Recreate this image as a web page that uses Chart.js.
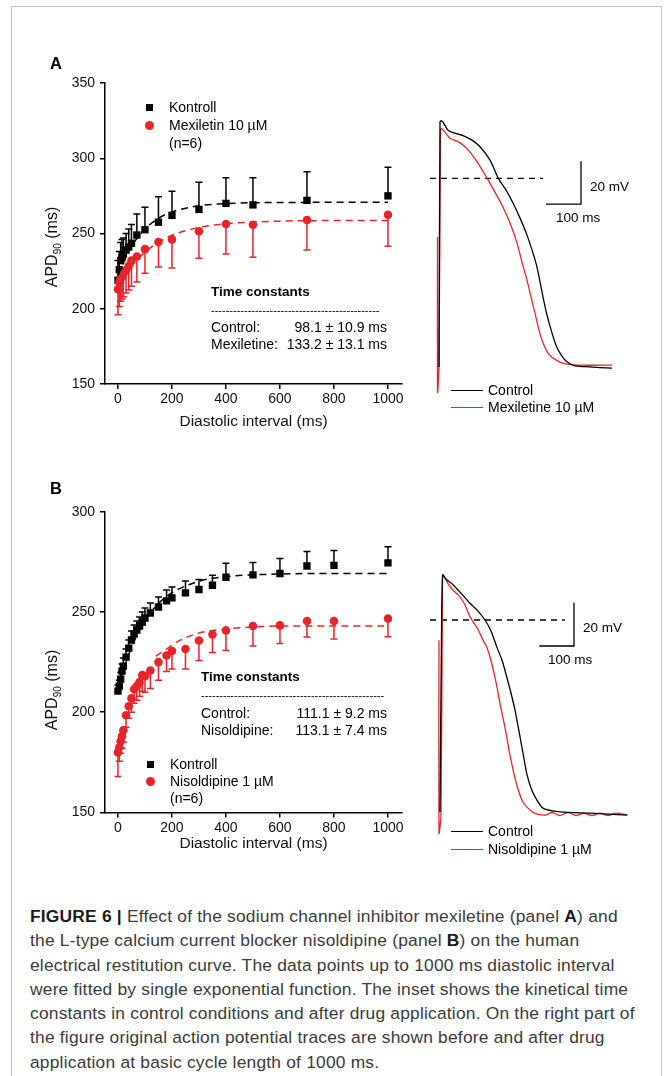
<!DOCTYPE html>
<html>
<head>
<meta charset="utf-8">
<script src="https://cdn.jsdelivr.net/npm/chart.js@4.4.1/dist/chart.umd.min.js"></script>
<style>
  html, body { margin: 0; padding: 0; background: #fff; }
  #page { position: relative; width: 665px; height: 1076px; overflow: hidden; font-family: "Liberation Sans", Arial, sans-serif; color: #000; }
  #frame { position: absolute; left: 11px; top: 6px; width: 651px; height: 1200px; border: 1px solid #c4c4c4; box-sizing: border-box; }
  canvas { position: absolute; }
  .t { position: absolute; white-space: nowrap; line-height: 1; transform: translateY(-50%); }
  .caption { position: absolute; left: 30px; top: 904px; width: 630px; font-size: 17.4px; letter-spacing: 0.2px; line-height: 24.3px; color: #3a3a3a; white-space: nowrap; }
  .caption b { color: #1a1a1a; }
</style>
</head>
<body>
<div id="page">
  <div id="frame"></div>
  <canvas id="cA" width="380" height="380" style="left:40px;top:60px;width:380px;height:380px"></canvas>
  <canvas id="tA" width="215" height="290" style="left:425px;top:110px;width:215px;height:290px"></canvas>
  <canvas id="cB" width="380" height="370" style="left:40px;top:490px;width:380px;height:370px"></canvas>
  <canvas id="tB" width="215" height="285" style="left:425px;top:560px;width:215px;height:285px"></canvas>
  <div class="caption"><b>FIGURE 6 |</b> Effect of the sodium channel inhibitor mexiletine (panel <b>A</b>) and<br>the L-type calcium current blocker nisoldipine (panel <b>B</b>) on the human<br>electrical restitution curve. The data points up to 1000 ms diastolic interval<br>were fitted by single exponential function. The inset shows the kinetical time<br>constants in control conditions and after drug application. On the right part of<br>the figure original action potential traces are shown before and after drug<br>application at basic cycle length of 1000 ms.</div>
</div>
<script>
// ---------------- Panel A: restitution data ----------------
const diA = [0, 5, 10, 15, 20, 30, 40, 50, 70, 100, 150, 200, 300, 400, 500, 700, 1000];
const kontrollA = [219, 226, 232, 234, 236, 239, 241, 243.5, 249, 252.5, 257.5, 262, 266, 270, 269, 272, 275];
const kontrollAErr = [13, 12, 12, 12, 11, 11, 12, 12.5, 14, 15, 17, 16, 18, 17, 18, 19, 19];
const mexA = [213, 217.5, 220, 221.5, 223, 225.5, 228.5, 232, 234.7, 239.6, 244.3, 246, 251.5, 256.3, 255.8, 259, 262.5];
const mexAErr = [17, 16, 15, 15, 15, 15, 16, 17, 17, 16, 16.5, 19, 18, 20, 21.5, 20, 21];
const fitXA = [0, 10, 25, 50, 75, 100, 150, 200, 300, 400, 600, 800, 1000];
const fitKontrollA = [222, 226.5, 232.7, 241.3, 247.9, 253.1, 260.1, 264.3, 268.4, 269.9, 270.6, 270.7, 270.7];
const fitMexA = [214, 217.2, 221.6, 228, 233.3, 237.6, 244.2, 248.8, 254, 256.5, 258.2, 258.6, 258.7];

// ---------------- Panel B: restitution data ----------------
const diB = [0, 5, 10, 15, 20, 30, 40, 50, 60, 70, 80, 90, 100, 120, 150, 180, 200, 250, 300, 350, 400, 500, 600, 700, 800, 1000];
const kontrollB = [210.5, 213, 216.5, 220.5, 223, 227.5, 232, 236, 239, 241, 243, 245, 247, 249.5, 252.5, 255.5, 257, 259.5, 261.2, 263.3, 267.3, 268.5, 269.2, 272.9, 273.2, 274.5];
const kontrollBErr = [3, 3, 3.5, 3.5, 4, 4, 4, 4.5, 4.5, 4.5, 4.5, 5, 5, 5, 5, 5.5, 5.5, 6, 5, 5, 7, 6.2, 7.5, 7.3, 7.5, 8];
const nisB = [180, 182.5, 185.5, 188, 191, 198.5, 203, 207, 211.5, 213, 215, 218.5, 218, 220.8, 225, 228.3, 230.5, 231.5, 235.8, 238.8, 240.8, 243, 243.3, 245.5, 245.5, 246.7];
const nisBErr = [12, 7, 6, 6, 6, 6, 6, 7, 7, 7, 7, 8, 8, 9, 9, 8, 9, 10, 10, 9, 10, 10, 9, 8, 9, 9];
const fitXKontrollB = [0, 10, 25, 50, 75, 100, 150, 200, 300, 400, 600, 800, 1000];
const fitKontrollB = [211.2, 216.2, 222.9, 232.2, 239.7, 245.6, 254.2, 259.6, 265.3, 267.6, 268.9, 269.2, 269.2];
const fitXNisB = [140, 170, 200, 240, 300, 400, 500, 600, 800, 1000];
const fitNisB = [228, 230.5, 233.5, 236.5, 239.5, 241.5, 242.5, 243, 243, 243];

const xTicks = [0, 200, 400, 600, 800, 1000];
const yTicksA = [150, 200, 250, 300, 350];
const yTicksB = [150, 200, 250, 300];

// ---------------- Action potential traces (ms, mV) ----------------
const apActrlT = [-2.9, 0, 2.9, 8.6, 22.9, 42.9, 65.7, 91.4, 114.3, 142.9, 166.6, 188.6, 208.6, 228.6, 248.6, 265.7, 277.1, 294.3, 305.7, 320.0, 331.4, 342.9, 360.0, 382.9, 414.3, 457.1, 491.4];
const apActrlV = [-85.0, 29.0, 29.6, 29.0, 25.2, 23.8, 22.7, 20.6, 17.5, 11.3, 2.8, -2.7, -8.7, -15.7, -23.6, -32.0, -38.5, -52.4, -60.8, -69.2, -74.8, -78.5, -82.2, -84.3, -84.8, -85.2, -85.5];
const apAmexT = [-7.1, -7.1, -2.9, 1.4, 4.3, 11.4, 28.6, 48.6, 65.7, 85.7, 108.6, 134.3, 157.1, 180.0, 200.0, 220.0, 234.3, 248.6, 260.0, 271.4, 282.9, 294.3, 308.6, 322.9, 342.9, 362.9, 400.0, 491.4];
const apAmexV = [-24.5, -96.6, -84.5, 25.2, 26.0, 24.8, 21.5, 20.1, 18.3, 15.0, 9.9, 2.9, -3.6, -10.6, -18.0, -27.3, -36.2, -44.5, -52.4, -59.9, -67.8, -73.8, -78.5, -80.8, -82.7, -83.6, -84.1, -84.1];
const apAdashT = [-28.6, 294.3];
const apAdashV = [2.8, 2.8];
const apAbarT = [302.9, 402.9, 402.9];
const apAbarV = [-9.2, -9.2, 10.8];

const apBctrlT = [-2.9, 1.4, 4.9, 14.4, 35.4, 54.8, 83.6, 106.6, 126.8, 144.1, 160.5, 175.8, 189.3, 201.7, 213.3, 227.7, 237.8, 247.0, 259.4, 270.9, 294.8, 342.9, 429.4, 535.2];
const apBctrlV = [-85.0, -5.6, 24.5, 22.6, 19.9, 16.6, 11.4, 7.8, 3.7, -1.4, -8.6, -14.8, -22.5, -30.0, -37.9, -50.2, -59.1, -67.1, -73.9, -77.9, -83.3, -84.9, -85.5, -86.4];
const apBnisT = [-5.8, -5.8, 0, 4.3, 5.8, 25.9, 40.3, 54.8, 69.2, 83.6, 107.5, 121.0, 131.7, 141.2, 150.7, 161.4, 170.0, 180.1, 189.3, 196.0, 203.7, 213.3, 222.8, 233.4, 247.0, 270.9, 299.7, 319.9, 342.9, 366.0, 389.0, 412.1, 435.2, 458.2, 481.3, 504.3, 538.9];
const apBnisV = [-5.6, -94.7, -86.4, 23.5, 24.5, 19.1, 16.6, 14.4, 10.6, 5.2, -0.9, -5.6, -8.6, -13.4, -19.4, -27.3, -34.8, -42.5, -50.2, -56.4, -62.5, -69.3, -74.8, -79.5, -82.6, -85.6, -86.4, -85.2, -86.6, -85.2, -86.6, -85.5, -86.6, -85.5, -86.6, -85.5, -86.4];
const apBdashT = [-31.7, 357.3];
const apBdashV = [3.7, 3.7];
const apBbarT = [283.3, 383.3, 383.3];
const apBbarV = [-8.3, -8.3, 11.7];

// ---------------- helpers ----------------
const RED = '#e8242b';
const FONT = '"Liberation Sans", Arial, sans-serif';
Chart.defaults.font.family = FONT;
Chart.defaults.color = '#000';

const pts = (xs, ys) => xs.map((x, i) => ({ x: x, y: ys[i] }));

const errorBars = {
  id: 'errorBars',
  beforeDatasetsDraw(chart) {
    const ctx = chart.ctx, xs = chart.scales.x, ys = chart.scales.y;
    chart.data.datasets.forEach(ds => {
      if (!ds.errors) return;
      ctx.save();
      ctx.strokeStyle = ds.barColor;
      ctx.lineWidth = 1.5;
      ds.data.forEach((p, j) => {
        const px = xs.getPixelForValue(p.x);
        const py = ys.getPixelForValue(p.y);
        const pe = ys.getPixelForValue(p.y + ds.errDir * ds.errors[j]);
        ctx.beginPath();
        ctx.moveTo(px, py); ctx.lineTo(px, pe);
        ctx.moveTo(px - 3.5, pe); ctx.lineTo(px + 3.5, pe);
        ctx.stroke();
      });
      ctx.restore();
    });
  }
};

function restitutionChart(id, o) {
  return new Chart(document.getElementById(id), {
    type: 'scatter',
    data: {
      datasets: [
        { data: pts(o.fitXR, o.fitR), type: 'line', borderColor: RED, borderWidth: 1.5, borderDash: [7, 5], pointRadius: 0, cubicInterpolationMode: 'monotone', fill: false },
        { data: pts(o.fitXK, o.fitK), type: 'line', borderColor: '#000', borderWidth: 1.5, borderDash: [7, 5], pointRadius: 0, cubicInterpolationMode: 'monotone', fill: false },
        { data: pts(o.di, o.r), errors: o.rErr, errDir: -1, barColor: RED, backgroundColor: RED, borderColor: RED, pointStyle: 'circle', pointRadius: 4.3, borderWidth: 0, showLine: false },
        { data: pts(o.di, o.k), errors: o.kErr, errDir: 1, barColor: '#000', backgroundColor: '#000', borderColor: '#000', pointStyle: 'rect', pointRadius: 5.2, borderWidth: 0, showLine: false }
      ]
    },
    options: {
      responsive: false, animation: false, events: [],
      layout: { padding: { left: 0, right: 18, top: o.padTop, bottom: 0 } },
      plugins: { legend: { display: false }, tooltip: { enabled: false } },
      scales: {
        x: {
          type: 'linear', min: -48, max: 1052,
          afterBuildTicks: s => { s.ticks = xTicks.map(v => ({ value: v })); },
          afterFit: s => { s.height = o.xH; },
          ticks: { font: { size: 14 }, color: '#111', padding: 2, maxRotation: 0, callback: v => String(v) },
          grid: { drawOnChartArea: false, drawTicks: true, tickLength: 5, color: '#000', lineWidth: 1.5 },
          border: { display: true, color: '#000', width: 1.5 },
          title: { display: true, text: 'Diastolic interval (ms)', font: { size: 15.5 }, color: '#111', padding: { top: 0, bottom: o.titlePad } }
        },
        y: {
          min: o.yMin, max: o.yMax,
          afterBuildTicks: s => { s.ticks = o.yTicks.map(v => ({ value: v })); },
          afterFit: s => { s.width = 65; },
          ticks: { font: { size: 14 }, color: '#111', padding: 5, callback: v => String(v) },
          grid: { drawOnChartArea: false, drawTicks: true, tickLength: 5, color: '#000', lineWidth: 1.5 },
          border: { display: true, color: '#000', width: 1.5 }
        }
      }
    },
    plugins: [errorBars]
  });
}

restitutionChart('cA', {
  di: diA, k: kontrollA, kErr: kontrollAErr, r: mexA, rErr: mexAErr,
  fitXK: fitXA, fitK: fitKontrollA, fitXR: fitXA, fitR: fitMexA,
  yMin: 150, yMax: 350, yTicks: yTicksA, padTop: 23, xH: 56, titlePad: 9
});
restitutionChart('cB', {
  di: diB, k: kontrollB, kErr: kontrollBErr, r: nisB, rErr: nisBErr,
  fitXK: fitXKontrollB, fitK: fitKontrollB, fitXR: fitXNisB, fitR: fitNisB,
  yMin: 150, yMax: 300, yTicks: yTicksB, padTop: 21.7, xH: 47.5, titlePad: 6.7
});

function traceChart(id, o) {
  return new Chart(document.getElementById(id), {
    type: 'line',
    data: {
      datasets: [
        { data: pts(o.ctrlT, o.ctrlV), borderColor: '#000', borderWidth: 1.3, tension: 0.25 },
        { data: pts(o.drugT, o.drugV), borderColor: RED, borderWidth: 1.3, tension: 0.25 },
        { data: pts(o.dashT, o.dashV), borderColor: '#000', borderWidth: 1.3, borderDash: [6, 5], tension: 0 },
        { data: pts(o.barT, o.barV), borderColor: '#000', borderWidth: 1.3, tension: 0 }
      ]
    },
    options: {
      responsive: false, animation: false, events: [],
      layout: { padding: 0 },
      elements: { point: { radius: 0 }, line: { capBezierPoints: true } },
      plugins: { legend: { display: false }, tooltip: { enabled: false } },
      scales: {
        x: { type: 'linear', display: false, min: o.xMin, max: o.xMax },
        y: { type: 'linear', display: false, min: o.yMin, max: o.yMax }
      }
    }
  });
}

traceChart('tA', { ctrlT: apActrlT, ctrlV: apActrlV, drugT: apAmexT, drugV: apAmexV, dashT: apAdashT, dashV: apAdashV, barT: apAbarT, barV: apAbarV, xMin: -42.9, xMax: 571.4, yMin: -100.3, yMax: 34.6 });
traceChart('tB', { ctrlT: apBctrlT, ctrlV: apBctrlV, drugT: apBnisT, drugV: apBnisV, dashT: apBdashT, dashV: apBdashV, barT: apBbarT, barV: apBbarV, xMin: -46.1, xMax: 573.5, yMin: -100.2, yMax: 31.4 });

// ---------------- text & legends ----------------
const page = document.getElementById('page');
function T(html, x, y, st) {
  const d = document.createElement('div');
  d.className = 't';
  d.innerHTML = html;
  d.style.left = x + 'px';
  d.style.top = y + 'px';
  Object.assign(d.style, st || {});
  page.appendChild(d);
  return d;
}
function R(html, xr, y, st) {
  const d = T(html, 0, y, st);
  d.style.left = 'auto';
  d.style.right = (665 - xr) + 'px';
  return d;
}
function box(x, y, w, h, st) {
  const d = document.createElement('div');
  d.style.position = 'absolute';
  d.style.left = x + 'px'; d.style.top = y + 'px';
  d.style.width = w + 'px'; d.style.height = h + 'px';
  Object.assign(d.style, st);
  page.appendChild(d);
}

// panel letters
T('A', 50, 63, { fontWeight: 'bold', fontSize: '16.5px' });
T('B', 50, 488, { fontWeight: 'bold', fontSize: '16.5px' });

// y axis titles
function yTitle(cy) {
  const d = T('APD<span style="font-size:10px;position:relative;top:4px">90</span> (ms)', 52, cy, { fontSize: '16px', color: '#111' });
  d.style.transform = 'translate(-50%,-50%) rotate(-90deg)';
}
yTitle(247);
yTitle(690);

// legend A
box(146, 104, 7, 7, { background: '#000' });
box(145, 121, 9, 9, { background: RED, borderRadius: '50%' });
T('Kontroll', 169, 107, { fontSize: '14px' });
T('Mexiletin 10 µM', 169, 125, { fontSize: '14px' });
T('(n=6)', 169, 143, { fontSize: '14px' });

// time constants A
T('Time constants', 211, 292, { fontWeight: 'bold', fontSize: '13.5px' });
T('----------------------------------------------', 211, 310, { fontSize: '11px', width: '179px', overflow: 'hidden' });
T('Control:', 211, 327, { fontSize: '14px' });
R('98.1 ± 10.9 ms', 387, 327, { fontSize: '14px' });
T('Mexiletine:', 211, 344, { fontSize: '14px' });
R('133.2 ± 13.1 ms', 387, 344, { fontSize: '14px' });

// legend B
box(146.5, 760.5, 7, 7, { background: '#000' });
box(145.5, 776.5, 9, 9, { background: RED, borderRadius: '50%' });
T('Kontroll', 170, 764, { fontSize: '14px' });
T('Nisoldipine 1 µM', 170, 781, { fontSize: '14px' });
T('(n=6)', 170, 798, { fontSize: '14px' });

// time constants B
T('Time constants', 201, 677, { fontWeight: 'bold', fontSize: '13.5px' });
T('--------------------------------------------------', 201, 695, { fontSize: '11px', width: '192px', overflow: 'hidden' });
T('Control:', 201, 713, { fontSize: '14px' });
R('111.1 ± 9.2 ms', 387, 713, { fontSize: '14px' });
T('Nisoldipine:', 201, 730, { fontSize: '14px' });
R('113.1 ± 7.4 ms', 387, 730, { fontSize: '14px' });

// trace annotations A
T('20 mV', 590, 187, { fontSize: '13.5px' });
T('100 ms', 556, 218, { fontSize: '13.5px' });
box(451, 389.5, 32, 1.3, { background: '#000' });
T('Control', 488, 390, { fontSize: '14px' });
box(451, 406.5, 32, 1.3, { background: RED });
T('Mexiletine 10 µM', 488, 407, { fontSize: '14px' });

// trace annotations B
T('20 mV', 583, 628, { fontSize: '13.5px' });
T('100 ms', 548, 660, { fontSize: '13.5px' });
box(451, 830.5, 32, 1.3, { background: '#000' });
T('Control', 488, 831, { fontSize: '14px' });
box(451, 848.5, 32, 1.3, { background: RED });
T('Nisoldipine 1 µM', 488, 849, { fontSize: '14px' });
</script>
</body>
</html>
